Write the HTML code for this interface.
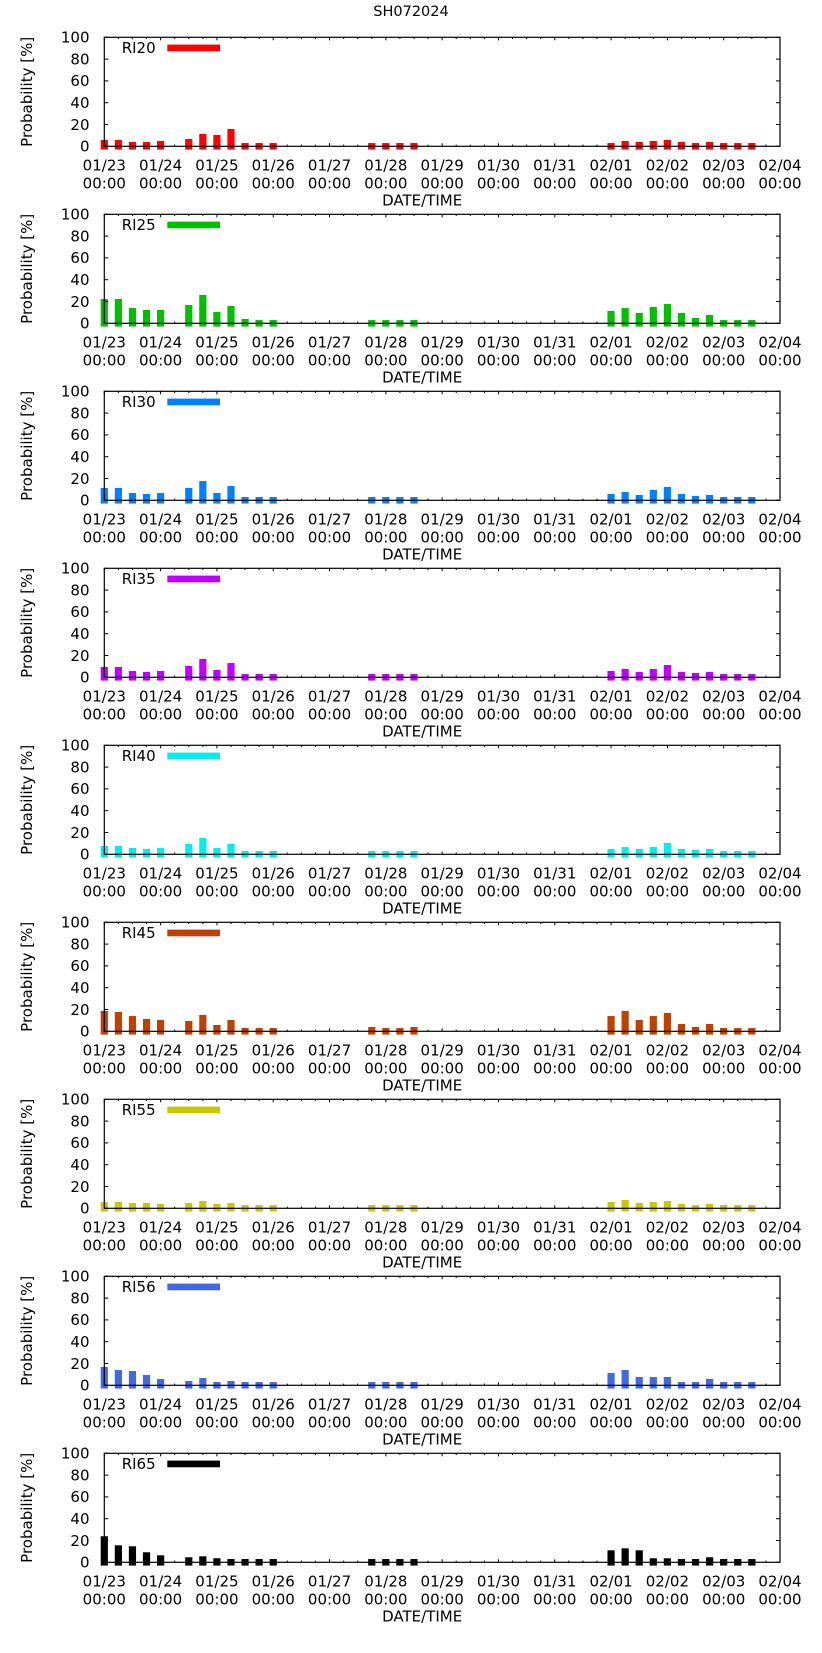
<!DOCTYPE html>
<html><head><meta charset="utf-8">
<style>
html,body{margin:0;padding:0;background:#fff;}
svg{display:block;font-family:"DejaVu Sans","Liberation Sans",sans-serif;}
</style></head>
<body>
<svg id="chart" width="822" height="1653" viewBox="0 0 822 1653" xmlns="http://www.w3.org/2000/svg">
<text x="411" y="16" font-size="14.5" text-anchor="middle">SH072024</text>
</svg>
<script>
// time index in 6-hour steps from 01/23 00:00
const times = [0,1,2,3,4,6,7,8,9,10,11,12,19,20,21,22,36,37,38,39,40,41,42,43,44,45,46];
const seriesNames = ["RI20","RI25","RI30","RI35","RI40","RI45","RI55","RI56","RI65"];
const seriesColors = ["#ff0000","#00c000","#0080ff","#c000ff","#00eeee","#c04000","#c8c800","#4169e1","#000000"];
const ri20 = [5.8,5.8,4,4,4.9, 6.7,11.3,10.4,15.9,3,3,3, 3,3,3,3, 3,4.9,4,4.9,5.8,4,3,4,3,3,3];
const ri25 = [22.3,22.3,14,12.2,12.2, 16.8,26,10.4,15.9,4,3,3, 3,3,3,3, 11.3,14,9.5,15,17.7,9.5,4.9,7.6,3,3,3];
const ri30 = [11.3,11.3,6.7,5.8,6.7, 11.3,17.7,6.7,13.1,3,3,3, 3,3,3,3, 5.8,7.6,4.9,9.5,12.2,5.8,4,4.9,3,3,3];
const ri35 = [9.5,9.5,5.8,4.9,5.8, 10.4,16.8,6.7,13.1,3,3,3, 3,3,3,3, 5.8,7.6,4.9,7.6,11.3,4.9,4,4.9,3,3,3];
const ri40 = [7.6,7.6,5.8,4.9,5.8, 9.5,15,5.8,9.5,3,3,3, 3,3,3,3, 4.9,6.7,4.9,6.7,10.4,4.9,4,4.9,3,3,3];
const ri45 = [18.7,17.7,14,11.3,10.4, 9.5,15,5.8,10.4,3,3,3, 4,3,3,4, 14,18.7,10.4,14,16.8,6.7,4,6.7,3,3,3];
const ri55 = [5.8,5.8,4.9,4.9,4, 4.9,6.7,4,4.9,3,3,3, 3,3,3,3, 5.8,7.6,4.9,5.8,6.7,4,3,4,3,3,3];
const ri56 = [16.8,14,13.1,9.5,5.8, 4,6.7,3,4,3,3,3, 3,3,3,3, 11.3,14,7.6,7.6,7.6,3,3,5.8,3,3,3];
const ri65 = [23.9,15.6,14.7,9.2,6.4, 4.6,5.5,3.7,3,3,3,3, 3,3,3,3, 11,12.8,11,3.7,3.7,3,3,4.6,3,3,3];
const allSeries = [ri20,ri25,ri30,ri35,ri40,ri45,ri55,ri56,ri65];
const dayLabels = ["01/23","01/24","01/25","01/26","01/27","01/28","01/29","01/30","01/31","02/01","02/02","02/03","02/04"];
const yTicks = [0,20,40,60,80,100];

const NS = "http://www.w3.org/2000/svg";
const svg = document.getElementById("chart");
const X0 = 104.3, X1 = 780, NSTEPS = 48;
function el(tag, attrs, parent){ const e=document.createElementNS(NS,tag); for(const k in attrs) e.setAttribute(k,attrs[k]); parent.appendChild(e); return e; }
function xScale(t){ return X0 + (X1-X0)*t/NSTEPS; }

for(let p=0;p<allSeries.length;p++){
  const top = 37.3 + 177*p, bot = 146.3 + 177*p;
  const yScale = v => bot - (bot-top)*v/100;
  const g = el("g",{},svg);
  
  
  // x ticks (drawn under bars)
  for(let s=0;s<=NSTEPS;s++){
    const x = xScale(s), len = (s%4===0)?3:1.7;
    el("line",{x1:x,y1:bot,x2:x,y2:bot-len,stroke:"#000","stroke-width":1},g);
    el("line",{x1:x,y1:top,x2:x,y2:top+len,stroke:"#000","stroke-width":1},g);
  }
  // bars
  const vals = allSeries[p];
  for(let i=0;i<times.length;i++){
    const xc = xScale(times[i]);
    const yt = yScale(vals[i]), yb = yScale(-3);
    const r = el("rect",{x:xc-3.6,y:yt,width:7.2,height:yb-yt,fill:seriesColors[p]},g);
    
    
  }
  // frame
  const fr = el("rect",{x:X0,y:top,width:X1-X0,height:bot-top,fill:"none",stroke:"#000","stroke-width":1.2},g);
  
  
  for(let d=0;d<dayLabels.length;d++){
    const x = xScale(d*4);
    const t1 = el("text",{x:x,y:bot+24,"font-size":15,"text-anchor":"middle"},g);
    t1.textContent = dayLabels[d];
    
    
    const t2 = el("text",{x:x,y:bot+42,"font-size":15,"text-anchor":"middle"},g);
    t2.textContent = "00:00";
    
    
  }
  // y ticks
  for(const v of yTicks){
    const y = yScale(v);
    el("line",{x1:X0,y1:y,x2:X0+4,y2:y,stroke:"#000","stroke-width":1},g);
    el("line",{x1:X1,y1:y,x2:X1-4,y2:y,stroke:"#000","stroke-width":1},g);
    const t = el("text",{x:89.5,y:y+5.3,"font-size":15,"text-anchor":"end"},g);
    t.textContent = v;
    
    
  }
  const yl = el("text",{x:0,y:0,"font-size":15,"text-anchor":"middle",transform:`translate(32,${(top+bot)/2}) rotate(-90)`},g);
  yl.textContent = "Probability [%]";
  
  
  const xl = el("text",{x:(X0+X1)/2-20,y:bot+59,"font-size":15,"text-anchor":"middle"},g);
  xl.textContent = "DATE/TIME";
  
  
  // legend
  const lt = el("text",{x:121.7,y:top+15.5,"font-size":15},g);
  lt.textContent = seriesNames[p];
  
  
  const ll = el("rect",{x:167.3,y:top+7.3,width:52.7,height:6.7,fill:seriesColors[p]},g);
  
  
}
</script>
</body></html>
